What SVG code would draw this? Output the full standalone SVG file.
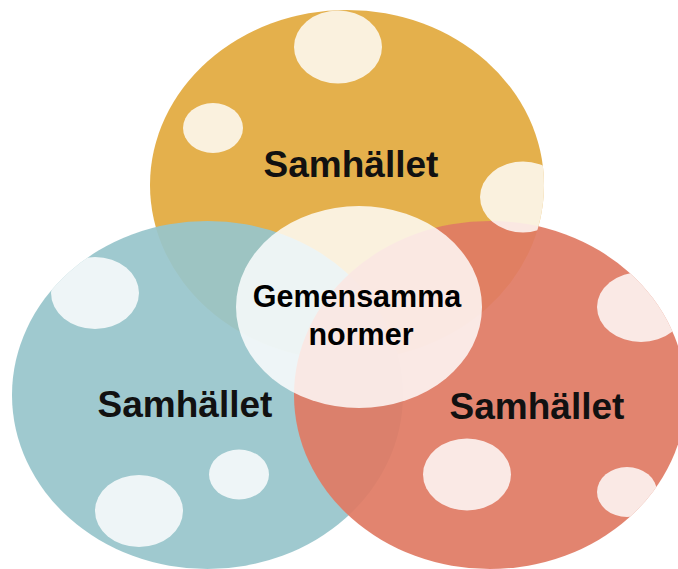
<svg xmlns="http://www.w3.org/2000/svg" width="678" height="569" viewBox="0 0 678 569">
  <style>
    .ring { stroke: none; }
    .top { fill: #E4B04C; }
    .left { fill: #98C5CB; opacity: 0.93; }
    .right { fill: #E07B64; opacity: 0.93; }
    .spot { fill: #FFFFFF; fill-opacity: 0.82; }
    .core { fill: #FFFFFF; fill-opacity: 0.82; }
    .big { font-family: "Liberation Sans", Arial, sans-serif; font-weight: bold; font-size: 37px; fill: #111111; text-anchor: middle; }
    .mid { font-family: "Liberation Sans", Arial, sans-serif; font-weight: bold; font-size: 30.5px; fill: #000000; text-anchor: middle; }
  </style>
  <defs>
    <clipPath id="clip-top"><ellipse cx="347" cy="185" rx="197" ry="175"/></clipPath>
    <clipPath id="clip-left"><ellipse cx="207.5" cy="395" rx="195.5" ry="174"/></clipPath>
    <clipPath id="clip-right"><ellipse cx="490" cy="395" rx="196" ry="174"/></clipPath>
  </defs>

  <rect width="678" height="569" fill="#FFFFFF"/>

  <!-- three overlapping society circles -->
  <g id="node-top">
    <ellipse class="ring top" cx="347" cy="185" rx="197" ry="175"/>
    <text class="big" x="351" y="177">Samhället</text>
  </g>
  <g id="node-left">
    <ellipse class="ring left" cx="207.5" cy="395" rx="195.5" ry="174"/>
    <text class="big" x="185" y="417">Samhället</text>
  </g>
  <g id="node-right">
    <ellipse class="ring right" cx="490" cy="395" rx="196" ry="174"/>
    <text class="big" x="537" y="419">Samhället</text>
  </g>

  <!-- light dots, each kept inside its own circle -->
  <g id="spots">
    <g clip-path="url(#clip-top)">
      <ellipse class="spot" cx="338" cy="47" rx="44" ry="36.5"/>
      <ellipse class="spot" cx="213" cy="128" rx="30" ry="25"/>
      <ellipse class="spot" cx="523" cy="197" rx="43" ry="35.5"/>
    </g>
    <g clip-path="url(#clip-left)">
      <ellipse class="spot" cx="95" cy="293" rx="44" ry="36"/>
      <ellipse class="spot" cx="239" cy="474.5" rx="30" ry="25"/>
      <ellipse class="spot" cx="139" cy="511" rx="44" ry="36"/>
    </g>
    <g clip-path="url(#clip-right)">
      <ellipse class="spot" cx="641" cy="307" rx="44" ry="35"/>
      <ellipse class="spot" cx="467" cy="474.5" rx="44" ry="36"/>
      <ellipse class="spot" cx="627" cy="492" rx="30" ry="25"/>
    </g>
  </g>

  <!-- shared centre -->
  <g id="node-center">
    <ellipse class="core" cx="359" cy="307" rx="123" ry="101"/>
    <text class="mid" x="357" y="307">Gemensamma</text>
    <text class="mid" x="361" y="345">normer</text>
  </g>
</svg>
